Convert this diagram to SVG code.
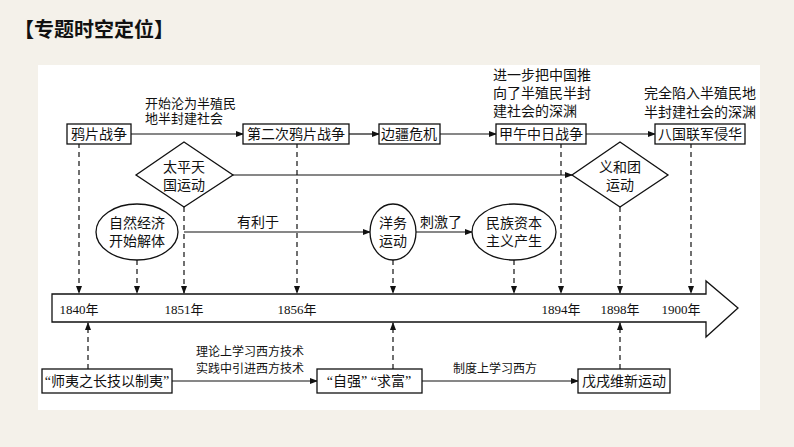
<svg xmlns="http://www.w3.org/2000/svg" width="794" height="447" viewBox="0 0 794 447">
<defs>
<marker id="ah" markerWidth="8" markerHeight="6" refX="7" refY="3" orient="auto" markerUnits="userSpaceOnUse"><path d="M0,0 L8,3 L0,6 Z" fill="#111"/></marker>
<style>
text{font-family:"Liberation Serif","Noto Sans CJK SC",serif;font-size:14px;fill:#111}
.t{text-anchor:middle}
.b{fill:#fff;stroke:#111;stroke-width:1.3}
.c{stroke:#111;stroke-width:1.2;fill:none}
.d{stroke:#111;stroke-width:1.2;fill:none;stroke-dasharray:5,4}
.s{font-size:12px}
.y{font-size:13px}
</style>
</defs>
<rect width="794" height="447" fill="#f4f1ea"/>
<rect x="38" y="65" width="722" height="345" fill="#fff"/>
<text x="14" y="37" style="font-family:'Noto Sans CJK SC',sans-serif;font-size:20px;font-weight:bold">【专题时空定位】</text>

<g id="connectors">
<line class="c" x1="131" y1="134" x2="243" y2="134" marker-end="url(#ah)"/>
<line class="c" x1="349" y1="134" x2="379" y2="134" marker-end="url(#ah)"/>
<line class="c" x1="440" y1="134" x2="496" y2="134" marker-end="url(#ah)"/>
<line class="c" x1="586" y1="134" x2="655" y2="134" marker-end="url(#ah)"/>
<line class="c" x1="233" y1="175" x2="572" y2="175" marker-end="url(#ah)"/>
<line class="c" x1="184" y1="232" x2="370" y2="232" marker-end="url(#ah)"/>
<line class="c" x1="416" y1="232" x2="472" y2="232" marker-end="url(#ah)"/>
<line class="c" x1="172" y1="381" x2="317" y2="381" marker-end="url(#ah)"/>
<line class="c" x1="422" y1="381" x2="578" y2="381" marker-end="url(#ah)"/>
<line class="d" x1="79" y1="143" x2="79" y2="293" marker-end="url(#ah)"/>
<line class="d" x1="137" y1="260" x2="137" y2="293" marker-end="url(#ah)"/>
<line class="d" x1="184" y1="207" x2="184" y2="293" marker-end="url(#ah)"/>
<line class="d" x1="297" y1="143" x2="297" y2="293" marker-end="url(#ah)"/>
<line class="d" x1="393" y1="260" x2="393" y2="293" marker-end="url(#ah)"/>
<line class="d" x1="514" y1="260" x2="514" y2="293" marker-end="url(#ah)"/>
<line class="d" x1="561" y1="143" x2="561" y2="293" marker-end="url(#ah)"/>
<line class="d" x1="620" y1="207" x2="620" y2="293" marker-end="url(#ah)"/>
<line class="d" x1="691" y1="143" x2="691" y2="293" marker-end="url(#ah)"/>
<line class="d" x1="88" y1="369" x2="88" y2="323" marker-end="url(#ah)"/>
<line class="d" x1="393" y1="369" x2="393" y2="323" marker-end="url(#ah)"/>
<line class="d" x1="620" y1="369" x2="620" y2="323" marker-end="url(#ah)"/>
</g>
<g id="labels">
<text x="145" y="108" class="y">开始沦为半殖民</text>
<text x="145" y="123" class="y">地半封建社会</text>
<text x="493" y="80">进一步把中国推</text>
<text x="493" y="98">向了半殖民半封</text>
<text x="493" y="116">建社会的深渊</text>
<text x="644" y="98">完全陷入半殖民地</text>
<text x="644" y="117">半封建社会的深渊</text>
<text class="t" x="258" y="227">有利于</text>
<text class="t" x="441" y="227">刺激了</text>
<text class="t s" x="250" y="356">理论上学习西方技术</text>
<text class="t s" x="250" y="373">实践中引进西方技术</text>
<text class="t s" x="495" y="373">制度上学习西方</text>
</g>
<g id="timeline">
<path class="b" d="M52,294 H706 V281 L738,308 L706,337 V322 H52 Z"/>
<text class="t y" x="79" y="314">1840年</text>
<text class="t y" x="184" y="314">1851年</text>
<text class="t y" x="297" y="314">1856年</text>
<text class="t y" x="561" y="314">1894年</text>
<text class="t y" x="620" y="314">1898年</text>
<text class="t y" x="681" y="314">1900年</text>
</g>
<g id="n1"><rect class="b" x="67" y="124" width="64" height="20"/><text class="t" x="99" y="139">鸦片战争</text></g>
<g id="n2"><rect class="b" x="243" y="124" width="106" height="20"/><text class="t" x="296" y="139">第二次鸦片战争</text></g>
<g id="n3"><rect class="b" x="379" y="124" width="61" height="20"/><text class="t" x="409" y="139">边疆危机</text></g>
<g id="n4"><rect class="b" x="496" y="124" width="90" height="20"/><text class="t" x="541" y="139">甲午中日战争</text></g>
<g id="n5"><rect class="b" x="655" y="124" width="90" height="20"/><text class="t" x="700" y="139">八国联军侵华</text></g>
<g id="n6"><path class="b" d="M184,142 L233,175 L184,207 L136,175 Z"/><text class="t" x="184" y="172">太平天</text><text class="t" x="184" y="190">国运动</text></g>
<g id="n7"><path class="b" d="M620,142 L668,175 L620,207 L572,175 Z"/><text class="t" x="620" y="172">义和团</text><text class="t" x="620" y="190">运动</text></g>
<g id="n8"><ellipse class="b" cx="137" cy="232" rx="41" ry="28"/><text class="t" x="137" y="228">自然经济</text><text class="t" x="137" y="246">开始解体</text></g>
<g id="n9"><ellipse class="b" cx="393" cy="232" rx="23" ry="28"/><text class="t" x="393" y="228">洋务</text><text class="t" x="393" y="246">运动</text></g>
<g id="n10"><ellipse class="b" cx="514" cy="232" rx="42" ry="28"/><text class="t" x="514" y="228">民族资本</text><text class="t" x="514" y="246">主义产生</text></g>
<g id="n11"><rect class="b" x="42" y="369" width="130" height="24"/><text class="t" x="107" y="386">“师夷之长技以制夷”</text></g>
<g id="n12"><rect class="b" x="317" y="369" width="105" height="24"/><text class="t" x="369" y="386">“自强”  “求富”</text></g>
<g id="n13"><rect class="b" x="578" y="369" width="92" height="24"/><text class="t" x="624" y="386">戊戌维新运动</text></g>
</svg>
